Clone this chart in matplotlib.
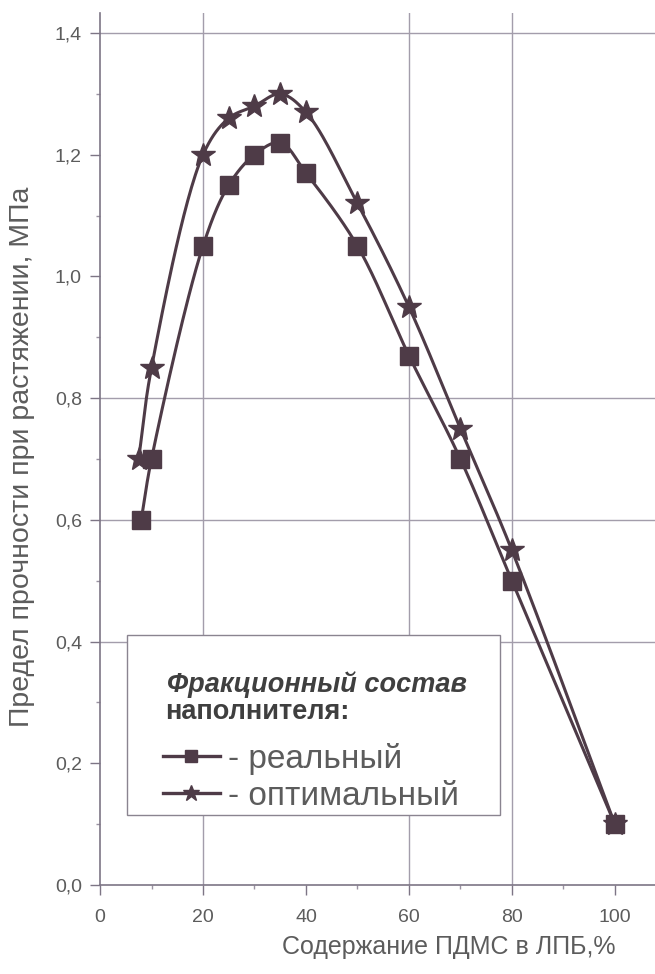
import numpy as np
import matplotlib
matplotlib.use("Agg")
import matplotlib.pyplot as plt
from matplotlib.lines import Line2D
from matplotlib.patches import Rectangle
from matplotlib.ticker import MultipleLocator, FuncFormatter

plt.rcParams['font.family'] = ['Liberation Sans', 'DejaVu Sans']

# --- data ---
x_real = [8, 10, 20, 25, 30, 35, 40, 50, 60, 70, 80, 100]
y_real = [0.60, 0.70, 1.05, 1.15, 1.20, 1.22, 1.17, 1.05, 0.87, 0.70, 0.50, 0.10]

x_opt = [7.5, 10, 20, 25, 30, 35, 40, 50, 60, 70, 80, 100]
y_opt = [0.70, 0.85, 1.20, 1.26, 1.28, 1.30, 1.27, 1.12, 0.95, 0.75, 0.55, 0.10]

lab_real = "- реальный"
lab_opt = "- оптимальный"
leg_title1 = "Фракционный состав"
leg_title2 = "наполнителя:"
xlabel = "Содержание ПДМС в ЛПБ,%"
ylabel = "Предел прочности при растяжении, МПа"

ink = '#4e3b47'
grid_c = '#a39dab'
txt_c = '#5c5c5c'


def spline(x, y, n=30, sx=5.15, sy=608.6):
    # centripetal Catmull-Rom through the points (smoothed line as in Origin)
    p = np.column_stack([np.asarray(x, float) * sx, np.asarray(y, float) * sy])
    p = np.vstack([2 * p[0] - p[1], p, 2 * p[-1] - p[-2]])
    out = []
    for i in range(1, len(p) - 2):
        p0, p1, p2, p3 = p[i - 1], p[i], p[i + 1], p[i + 2]
        t0 = 0.0
        t1 = t0 + np.linalg.norm(p1 - p0) ** 0.5
        t2 = t1 + np.linalg.norm(p2 - p1) ** 0.5
        t3 = t2 + np.linalg.norm(p3 - p2) ** 0.5
        t = np.linspace(t1, t2, n, endpoint=False)[:, None]
        a1 = (t1 - t) / (t1 - t0) * p0 + (t - t0) / (t1 - t0) * p1
        a2 = (t2 - t) / (t2 - t1) * p1 + (t - t1) / (t2 - t1) * p2
        a3 = (t3 - t) / (t3 - t2) * p2 + (t - t2) / (t3 - t2) * p3
        b1 = (t2 - t) / (t2 - t0) * a1 + (t - t0) / (t2 - t0) * a2
        b2 = (t3 - t) / (t3 - t1) * a2 + (t - t1) / (t3 - t1) * a3
        out.append((t2 - t) / (t2 - t1) * b1 + (t - t1) / (t2 - t1) * b2)
    out.append(p[-2][None])
    c = np.vstack(out)
    return c[:, 0] / sx, c[:, 1] / sy


fig = plt.figure(figsize=(6.55, 9.74), dpi=100)
ax = fig.add_axes([0.1527, 0.0914, 0.8473, 0.8953])

ax.set_xlim(0, 107.8)
ax.set_ylim(0, 1.433)

# grid lines that survive in the scan
for gx in [20, 60, 80]:
    ax.axvline(gx, color=grid_c, lw=1.0, zorder=0)
for gy in [0.4, 0.6, 0.8, 1.4]:
    ax.axhline(gy, color=grid_c, lw=1.0, zorder=0)

sx, sy = spline(x_opt, y_opt)
ax.plot(sx, sy, color=ink, lw=2.2, zorder=2)
ax.plot(x_opt, y_opt, ls='none', marker='*', ms=18, color=ink, zorder=3)

sx, sy = spline(x_real, y_real)
ax.plot(sx, sy, color=ink, lw=2.2, zorder=2)
ax.plot(x_real, y_real, ls='none', marker='s', ms=13, color=ink, zorder=3)

for s in ['top', 'right']:
    ax.spines[s].set_visible(False)
for s in ['left', 'bottom']:
    ax.spines[s].set_color('#7d7585')
    ax.spines[s].set_linewidth(1.2)

ax.xaxis.set_major_locator(MultipleLocator(20))
ax.xaxis.set_minor_locator(MultipleLocator(10))
ax.yaxis.set_major_locator(MultipleLocator(0.2))
ax.yaxis.set_minor_locator(MultipleLocator(0.1))
ax.set_xticks([0, 20, 40, 60, 80, 100])
ax.yaxis.set_major_formatter(FuncFormatter(lambda v, p: f"{v:.1f}".replace('.', ',')))
ax.tick_params(which='major', length=7, width=1, color='#7d7585', labelsize=14, labelcolor=txt_c, pad=6)
ax.tick_params(axis='x', which='major', pad=10)
ax.tick_params(which='minor', length=3, width=1, color='#9a93a2')

ax.set_xlabel(xlabel, fontsize=18, color=txt_c)
ax.xaxis.set_label_coords(0.629, -0.057)
ax.set_ylabel(ylabel, fontsize=20.5, color=txt_c)
ax.yaxis.set_label_coords(-0.117, 0.491)

# legend: frame, two title lines and the two entries
ax.add_patch(Rectangle((0.0486, 0.0803), 0.672, 0.2064, transform=ax.transAxes,
                       facecolor='white', edgecolor='#8a8490', lw=1.0, zorder=5))
ax.text(0.121, 0.2294, leg_title1, transform=ax.transAxes, fontsize=19.5,
        fontweight='bold', fontstyle='italic', color='#3f3f3f', va='center', zorder=6)
ax.text(0.117, 0.1984, leg_title2, transform=ax.transAxes, fontsize=19.5,
        fontweight='bold', color='#3f3f3f', va='center', zorder=6)

handles = [Line2D([], [], color=ink, lw=2.4, marker='s', ms=8),
           Line2D([], [], color=ink, lw=2.4, marker='*', ms=12)]
leg = ax.legend(handles, [lab_real, lab_opt], loc='upper left',
                bbox_to_anchor=(0.1135, 0.163), fontsize=24, frameon=False,
                handlelength=1.7, handletextpad=0.25, borderaxespad=0, borderpad=0,
                labelspacing=0.18)
leg.set_zorder(7)
for t in leg.get_texts():
    t.set_color(txt_c)

fig.savefig('out.png', dpi=100)
